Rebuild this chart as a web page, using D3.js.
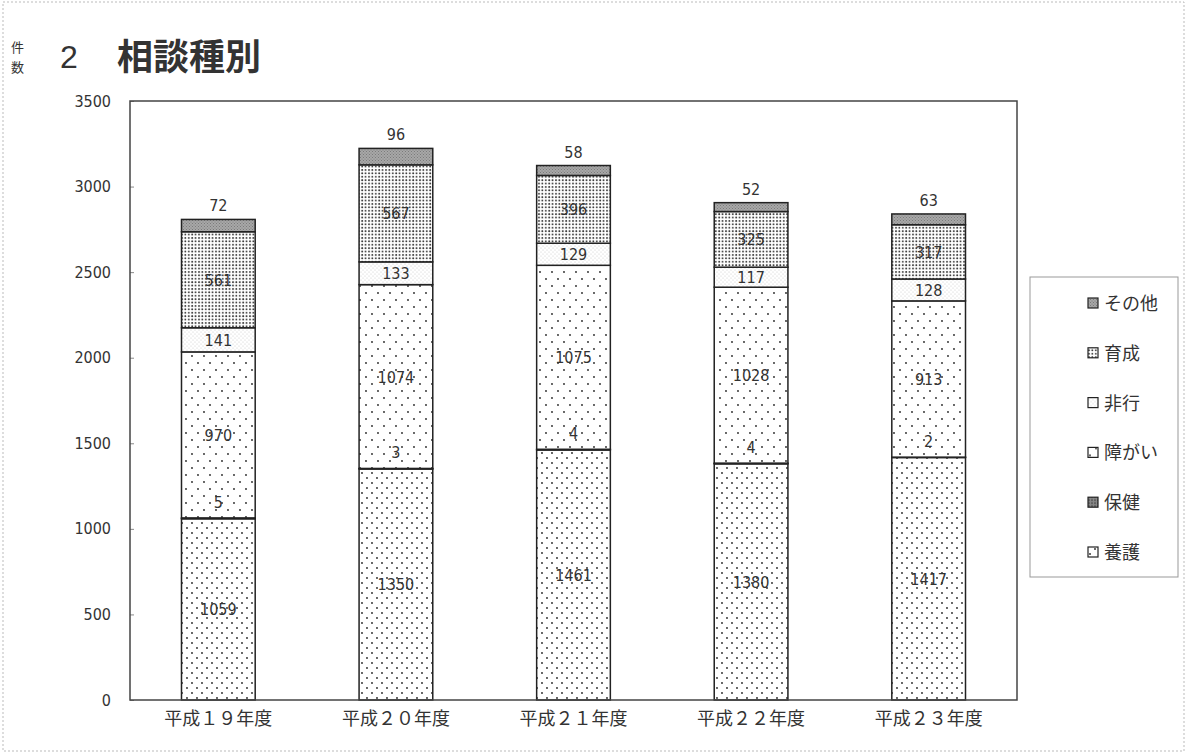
<!DOCTYPE html>
<html>
<head>
<meta charset="utf-8">
<script src="https://cdn.jsdelivr.net/npm/d3@7"></script>
<style>
  body { margin: 0; background: #fff; }
  text { font-family: "DejaVu Sans Condensed", "Liberation Sans Narrow", "Noto Sans CJK JP", sans-serif; font-stretch: condensed; }
  .jp { font-family: "Noto Sans CJK JP", sans-serif; font-stretch: normal; }
</style>
</head>
<body>
<div id="chart"></div>
<script>
// data
let years = ["平成１９年度", "平成２０年度", "平成２１年度", "平成２２年度", "平成２３年度"];
let kinds = ["養護", "保健", "障がい", "非行", "育成", "その他"];
let yougo = [1059, 1350, 1461, 1380, 1417];
let hoken = [5, 3, 4, 4, 2];
let shougai = [970, 1074, 1075, 1028, 913];
let hikou = [141, 133, 129, 117, 128];
let ikusei = [561, 567, 396, 325, 317];
let sonota = [72, 96, 58, 52, 63];
let yTicks = [0, 500, 1000, 1500, 2000, 2500, 3000, 3500];

let series = [yougo, hoken, shougai, hikou, ikusei, sonota];

let width = 1187,
    height = 753;

let margin = {
    top: 101,
    bottom: 53,
    left: 130,
    right: 170
}
let visWidth = width - margin.left - margin.right,
    visHeight = height - margin.top - margin.bottom;

let rows = years.map(function(y, i) {
    let r = {year: y};
    kinds.forEach(function(k, j) { r[k] = series[j][i]; });
    return r;
});

let stack = d3.stack().keys(kinds)(rows);

let xScale = d3.scaleBand()
    .domain(years)
    .range([0, visWidth])
    .paddingInner(0.585)
    .paddingOuter(0.29);

let yScale = d3.scaleLinear()
    .domain([0, 3500])
    .range([visHeight, 0]);

let svg = d3.select("#chart").append("svg")
    .attr("width", width)
    .attr("height", height);

// patterns like the scanned b/w print
let defs = svg.append("defs");
function dotPattern(id, w, h, bg, dots, r, col) {
    let p = defs.append("pattern").attr("id", id)
        .attr("patternUnits", "userSpaceOnUse")
        .attr("width", w).attr("height", h);
    p.append("rect").attr("width", w).attr("height", h).attr("fill", bg);
    dots.forEach(function(d) {
        p.append("circle").attr("cx", d[0]).attr("cy", d[1]).attr("r", r).attr("fill", col);
    });
}
dotPattern("p-yougo", 10, 10, "#fff", [[2, 2], [7, 7]], 0.9, "#222");
dotPattern("p-hoken", 3, 3, "#888", [[1, 1]], 0.8, "#333");
dotPattern("p-shougai", 12, 14, "#fff", [[2, 3], [8, 10]], 0.9, "#222");
dotPattern("p-hikou", 4, 4, "#fff", [[1, 1], [3, 3]], 0.6, "#ccc");
dotPattern("p-ikusei", 3.4, 3.4, "#fff", [[1, 1]], 0.95, "#333");
dotPattern("p-sonota", 3, 3, "#a8a8a8", [[1, 1], [2.5, 2.5]], 0.6, "#777");

let fills = {
    "養護": "url(#p-yougo)",
    "保健": "url(#p-hoken)",
    "障がい": "url(#p-shougai)",
    "非行": "url(#p-hikou)",
    "育成": "url(#p-ikusei)",
    "その他": "url(#p-sonota)"
};

// faint scan border
svg.append("rect")
    .attr("x", 3).attr("y", 2)
    .attr("width", width - 6).attr("height", height - 4)
    .attr("fill", "none").attr("stroke", "#bbb").attr("stroke-dasharray", "2,2");

// title
svg.append("text").attr("class", "jp").attr("x", 11).attr("y", 52)
    .attr("font-size", 13).attr("fill", "#333").text("件");
svg.append("text").attr("class", "jp").attr("x", 11).attr("y", 72)
    .attr("font-size", 13).attr("fill", "#333").text("数");
svg.append("text").attr("x", 60).attr("y", 68)
    .attr("font-size", 32).attr("fill", "#333")
    .style("font-family", "'Liberation Sans', sans-serif").style("font-stretch", "normal").text("2");
svg.append("text").attr("class", "jp").attr("x", 117).attr("y", 70)
    .attr("font-size", 36).attr("font-weight", "bold").attr("fill", "#333").text("相談種別");

let chart = svg.append("g")
    .attr("transform", "translate(" + margin.left + "," + margin.top + ")");

// y axis
let yAxis = d3.axisLeft(yScale).tickValues(yTicks).tickSize(-4).tickPadding(19)
    .tickFormat(d3.format("d"));
chart.append("g").call(yAxis)
    .call(function(g) { g.select(".domain").remove(); })
    .call(function(g) { g.selectAll(".tick line").attr("stroke", "#888"); })
    .call(function(g) {
        g.selectAll(".tick text").attr("font-size", 16).attr("fill", "#333")
            .style("font-family", "'DejaVu Sans Condensed', 'Liberation Sans Narrow', sans-serif");
    });

// bars
chart.selectAll(".layer")
    .data(stack)
    .enter().append("g")
    .attr("class", "layer")
    .attr("fill", function(d) { return fills[d.key]; })
    .selectAll("rect")
    .data(function(d) { return d; })
    .enter().append("rect")
    .attr("x", function(d) { return xScale(d.data.year); })
    .attr("y", function(d) { return yScale(d[1]); })
    .attr("width", xScale.bandwidth())
    .attr("height", function(d) { return yScale(d[0]) - yScale(d[1]); })
    .attr("stroke", "#222")
    .attr("stroke-width", 1.5);

// value labels
stack.forEach(function(layer) {
    chart.selectAll(".lbl-" + layer.index)
        .data(layer)
        .enter().append("text")
        .attr("x", function(d) { return xScale(d.data.year) + xScale.bandwidth() / 2; })
        .attr("y", function(d) {
            if (layer.key == "その他") return yScale(d[1]) - 8;
            if (layer.key == "保健") return yScale(d[1]) - 10;
            return (yScale(d[0]) + yScale(d[1])) / 2 + 6;
        })
        .attr("text-anchor", "middle")
        .attr("font-size", 16)
        .attr("fill", "#333")
        .text(function(d) { return d.data[layer.key]; });
});

// plot frame
chart.append("rect")
    .attr("width", visWidth).attr("height", visHeight)
    .attr("fill", "none").attr("stroke", "#444").attr("stroke-width", 1.5);

// x axis labels
chart.append("g")
    .attr("transform", "translate(0," + visHeight + ")")
    .call(d3.axisBottom(xScale).tickSize(0).tickPadding(12))
    .call(function(g) { g.select(".domain").remove(); })
    .call(function(g) {
        g.selectAll(".tick text").attr("font-size", 18).attr("fill", "#333")
            .style("font-family", "'Noto Sans CJK JP', sans-serif").style("font-stretch", "normal");
    });

// legend
let legend = svg.append("g").attr("transform", "translate(1030,277)");
legend.append("rect").attr("width", 148).attr("height", 300)
    .attr("fill", "#fff").attr("stroke", "#999").attr("stroke-width", 1);
let legendKinds = kinds.slice().reverse();
let ly = d3.scalePoint().domain(legendKinds).range([26, 275]);
let li = legend.selectAll(".item").data(legendKinds).enter().append("g")
    .attr("transform", function(d) { return "translate(58," + ly(d) + ")"; });
li.append("rect").attr("x", 0).attr("y", -5).attr("width", 10).attr("height", 10)
    .attr("fill", function(d) { return fills[d]; })
    .attr("stroke", "#222").attr("stroke-width", 1.2);
li.append("text").attr("class", "jp").attr("x", 16).attr("y", 7)
    .attr("font-size", 18).attr("fill", "#333")
    .text(function(d) { return d; });
</script>
</body>
</html>
